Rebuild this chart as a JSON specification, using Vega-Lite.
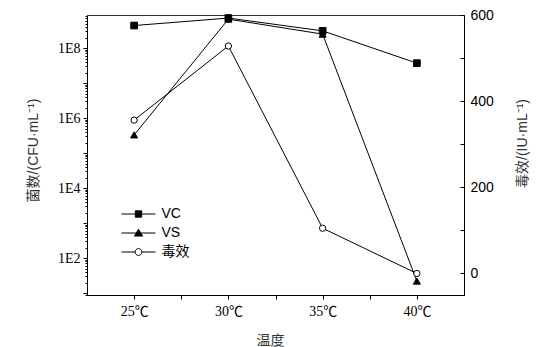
{
  "$schema": "https://vega.github.io/schema/vega-lite/v6.json",
  "width": 377,
  "height": 280,
  "autosize": {"type": "none"},
  "padding": {"left": 87, "top": 15, "right": 72, "bottom": 52},
  "background": "white",
  "config": {
    "view": {"stroke": "#333", "strokeWidth": 1},
    "axis": {"grid": false, "domainColor": "#000", "tickColor": "#000", "labelColor": "#000", "titleColor": "#333", "titleFontWeight": "normal", "titleFont": "Liberation Sans, Noto Sans CJK SC", "titleFontSize": 14}
  },
  "data": {
    "values": [
      {"temp": 25, "series": "VC", "value": 440000000},
      {"temp": 30, "series": "VC", "value": 720000000},
      {"temp": 35, "series": "VC", "value": 310000000},
      {"temp": 40, "series": "VC", "value": 37000000},
      {"temp": 25, "series": "VS", "value": 330000},
      {"temp": 30, "series": "VS", "value": 670000000},
      {"temp": 35, "series": "VS", "value": 250000000},
      {"temp": 40, "series": "VS", "value": 22},
      {"temp": 25, "series": "毒效", "value": 356},
      {"temp": 30, "series": "毒效", "value": 528},
      {"temp": 35, "series": "毒效", "value": 105},
      {"temp": 40, "series": "毒效", "value": 0}
    ]
  },
  "encoding": {
    "x": {
      "field": "temp", "type": "quantitative",
      "scale": {"domain": [22.5, 42.5], "nice": false, "zero": false},
      "axis": {
        "title": "温度", "titleX": 183, "titleY": 45, "titleBaseline": "middle", "titleAlign": "center",
        "values": [25, 27.5, 30, 32.5, 35, 37.5, 40],
        "labelExpr": "datum.value % 5 === 0 ? datum.value + '℃' : ''",
        "labelFont": "Liberation Serif, Noto Sans CJK SC", "labelFontSize": 14, "labelPadding": 5,
        "tickSize": 4
      }
    }
  },
  "layer": [
    {
      "transform": [{"filter": "datum.series !== '毒效'"}],
      "encoding": {
        "y": {
          "field": "value", "type": "quantitative",
          "scale": {"type": "log", "domain": [8.8, 880000000], "nice": false},
          "axis": {
            "title": "菌数/(CFU·mL⁻¹)", "titleAngle": 270, "titleX": -54, "titleY": 135, "titleBaseline": "middle", "titleAlign": "center",
            "values": [9, 10, 20, 30, 40, 50, 60, 70, 80, 90, 100, 200, 300, 400, 500, 600, 700, 800, 900, 1000, 2000, 3000, 4000, 5000, 6000, 7000, 8000, 9000, 10000, 20000, 30000, 40000, 50000, 60000, 70000, 80000, 90000, 100000, 200000, 300000, 400000, 500000, 600000, 700000, 800000, 900000, 1000000, 2000000, 3000000, 4000000, 5000000, 6000000, 7000000, 8000000, 9000000, 10000000, 20000000, 30000000, 40000000, 50000000, 60000000, 70000000, 80000000, 90000000, 100000000, 200000000, 300000000, 400000000, 500000000, 600000000, 700000000, 800000000],
            "labelExpr": "indexof([100, 10000, 1000000, 100000000], datum.value) >= 0 ? '1E' + round(log(datum.value) / LN10) : ''",
            "tickSize": {"condition": {"test": "indexof([10, 100, 1000, 10000, 100000, 1000000, 10000000, 100000000], datum.value) >= 0", "value": 4}, "value": 2},
            "labelFont": "Liberation Serif", "labelFontSize": 14, "labelPadding": 3, "labelBound": false, "labelOverlap": false
          }
        }
      },
      "layer": [
        {"mark": {"type": "line", "color": "black", "strokeWidth": 1}, "encoding": {"detail": {"field": "series"}}},
        {
          "transform": [{"filter": "datum.series === 'VC'"}],
          "mark": {"type": "point", "shape": "square", "size": 45, "fill": "black", "stroke": "black", "strokeWidth": 1, "opacity": 1},
          "encoding": {}
        },
        {
          "transform": [{"filter": "datum.series === 'VS'"}],
          "mark": {"type": "point", "shape": "triangle-up", "size": 50, "fill": "black", "stroke": "black", "strokeWidth": 1, "opacity": 1},
          "encoding": {}
        },
        {
          "mark": {"type": "point", "color": "black", "size": 0, "opacity": 1, "strokeWidth": 1},
          "encoding": {
            "shape": {
              "field": "series", "type": "nominal",
              "scale": {"domain": ["VC", "VS", "毒效"], "range": ["M-2,0L2,0M-0.37,-0.37L0.37,-0.37L0.37,0.37L-0.37,0.37Z", "M-2,0L2,0M0,-0.44L0.48,0.36L-0.48,0.36Z", "M-2,0L-0.42,0M0.42,0L2,0M-0.4,0A0.4,0.4 0 1,0 0.4,0A0.4,0.4 0 1,0 -0.4,0Z"]},
              "legend": {
                "title": null, "orient": "none", "legendX": 42.5, "legendY": 190,
                "labelFont": "Liberation Sans, Noto Sans CJK SC", "labelFontSize": 14, "labelColor": "#000", "labelOffset": 14,
                "symbolSize": 289, "symbolStrokeWidth": 1, "symbolStrokeColor": "black", "symbolOpacity": 1, "rowPadding": 3
              }
            },
            "fill": {
              "field": "series", "type": "nominal",
              "scale": {"domain": ["VC", "VS", "毒效"], "range": ["black", "black", "white"]},
              "legend": {
                "title": null, "orient": "none", "legendX": 42.5, "legendY": 190,
                "labelFont": "Liberation Sans, Noto Sans CJK SC", "labelFontSize": 14, "labelColor": "#000", "labelOffset": 14,
                "symbolSize": 289, "symbolStrokeWidth": 1, "symbolStrokeColor": "black", "symbolOpacity": 1, "rowPadding": 3
              }
            },
            "stroke": {
              "field": "series", "type": "nominal",
              "scale": {"domain": ["VC", "VS", "毒效"], "range": ["black", "black", "black"]},
              "legend": {
                "title": null, "orient": "none", "legendX": 42.5, "legendY": 190,
                "labelFont": "Liberation Sans, Noto Sans CJK SC", "labelFontSize": 14, "labelColor": "#000", "labelOffset": 14,
                "symbolSize": 289, "symbolStrokeWidth": 1, "symbolStrokeColor": "black", "symbolOpacity": 1, "rowPadding": 3
              }
            }
          }
        }
      ]
    },
    {
      "transform": [{"filter": "datum.series === '毒效'"}],
      "encoding": {
        "y": {
          "field": "value", "type": "quantitative",
          "scale": {"domain": [-50, 600], "nice": false, "zero": false},
          "axis": {
            "orient": "right",
            "title": "毒效/(IU·mL⁻¹)", "titleAngle": 270, "titleX": 58, "titleY": 128, "titleBaseline": "middle", "titleAlign": "center",
            "values": [0, 100, 200, 300, 400, 500, 600],
            "labelExpr": "datum.value % 200 === 0 ? datum.label : ''",
            "tickSize": -4, "labelPadding": 10,
            "labelFont": "Liberation Sans", "labelFontSize": 14, "labelBound": false, "labelOverlap": false
          }
        }
      },
      "layer": [
        {"mark": {"type": "line", "color": "black", "strokeWidth": 1}, "encoding": {}},
        {
          "mark": {"type": "point", "shape": "circle", "size": 40, "fill": "white", "stroke": "black", "strokeWidth": 1, "opacity": 1},
          "encoding": {}
        }
      ]
    }
  ],
  "resolve": {"scale": {"y": "independent"}}
}
